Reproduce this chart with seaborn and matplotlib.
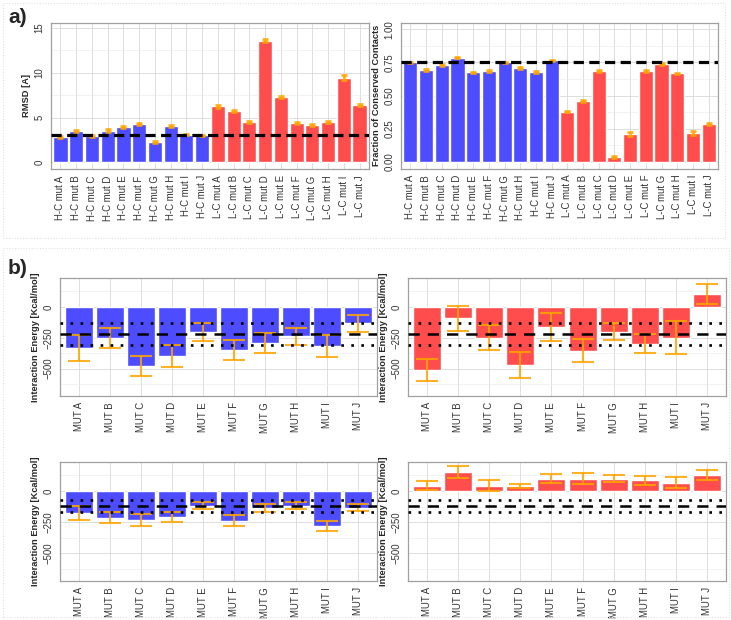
import numpy as np
import pandas as pd
import matplotlib
matplotlib.use("Agg")
import matplotlib.pyplot as plt
from matplotlib.patches import Rectangle
import seaborn as sns

# ---- data ----
mutants = ["A", "B", "C", "D", "E", "F", "G", "H", "I", "J"]
hc_labels = ["H-C mut " + m for m in mutants]
lc_labels = ["L-C mut " + m for m in mutants]
mut_labels = ["MUT " + m for m in mutants]

rmsd_hc = [2.8, 3.45, 2.95, 3.55, 3.95, 4.3, 2.3, 4.1, 3.1, 3.0]
rmsd_lc = [6.25, 5.75, 4.55, 13.6, 7.3, 4.4, 4.15, 4.55, 9.45, 6.4]
rmsd_hc_err = [0.12, 0.12, 0.1, 0.12, 0.12, 0.1, 0.1, 0.12, 0.08, 0.08]
rmsd_lc_err = [0.15, 0.12, 0.12, 0.15, 0.15, 0.12, 0.12, 0.12, 0.3, 0.15]
rmsd_ref = 3.1

frac_hc = [0.75, 0.695, 0.733, 0.787, 0.675, 0.685, 0.75, 0.71, 0.678, 0.765]
frac_lc = [0.38, 0.458, 0.685, 0.037, 0.207, 0.685, 0.738, 0.668, 0.218, 0.287]
frac_hc_err = [0.006, 0.006, 0.006, 0.007, 0.006, 0.007, 0.006, 0.007, 0.006, 0.007]
frac_lc_err = [0.007, 0.007, 0.007, 0.008, 0.015, 0.007, 0.007, 0.006, 0.015, 0.01]
frac_ref = 0.752

# interaction energies, four panels
e_tl = [-331, -252, -478, -398, -204, -349, -293, -239, -317, -134]
e_tl_err = [105, 79, 82, 91, 71, 82, 78, 69, 92, 69]
e_tr = [-511, -94, -250, -470, -164, -355, -202, -298, -250, 105]
e_tr_err = [90, 102, 101, 105, 115, 95, 69, 77, 134, 84]
e_bl = [-175, -215, -234, -207, -118, -239, -137, -118, -282, -134]
e_bl_err = [57, 45, 47, 42, 26, 44, 35, 26, 39, 30]
e_br = [43, 153, 43, 43, 99, 99, 99, 86, 67, 129]
e_br_err = [37, 47, 43, 16, 35, 45, 30, 37, 45, 39]

top_ref = [-220, -129, -309]     # mean, lower/upper dotted
bottom_ref = [-124, -73, -172]

BLUE = "#4D4DFF"
RED = "#FF4D4D"
ORANGE = "#FFA500"

sns.set_theme(style="whitegrid")
plt.rcParams["font.family"] = ["Liberation Sans", "DejaVu Sans"]

W, H = 731, 620
fig = plt.figure(figsize=(W / 100, H / 100), dpi=100)
fig.patch.set_facecolor("white")


def add_ax(x0, x1, top, bottom):
    return fig.add_axes([x0 / W, 1 - bottom / H, (x1 - x0) / W, (bottom - top) / H])


def style(ax, ylim, major, minor, ylabel, fmt=None):
    ax.set_xlim(-0.6, len(ax.get_xticks()) - 0.4)
    ax.set_ylim(*ylim)
    ax.set_yticks(major)
    ax.set_yticks(minor, minor=True)
    if fmt:
        ax.set_yticklabels([fmt.format(v) for v in major])
    ax.set_axisbelow(True)
    ax.grid(which="major", color="#D9D9D9", lw=0.6)
    ax.grid(which="minor", axis="y", color="#EAEAEA", lw=0.4)
    for s in ax.spines.values():
        s.set_color("#A0A0A0")
        s.set_linewidth(0.9)
    ax.tick_params(axis="both", which="major", length=2.5, width=0.6, color="#A0A0A0",
                   labelsize=6.9, labelcolor="#333333", pad=2)
    ax.tick_params(axis="y", which="minor", length=0)
    ax.tick_params(axis="x", labelrotation=90)
    for t in ax.get_yticklabels():
        t.set_rotation(90)
        t.set_va("center")
    ax.set_xlabel("")
    ax.set_ylabel(ylabel, fontsize=6.7, fontweight="bold", labelpad=3)


def group_bars(ax, labels, values, errs, colors, capsize, elw):
    df = pd.DataFrame({"label": labels, "value": values, "color": colors})
    sns.barplot(data=df, x="label", y="value", hue="color", palette={c: c for c in set(colors)},
                dodge=False, width=0.9, saturation=1, errorbar=None, legend=False, ax=ax)
    ax.errorbar(np.arange(len(values)), values, yerr=errs, fmt="none", ecolor=ORANGE,
                elinewidth=elw, capsize=capsize, capthick=elw, alpha=0.85, zorder=3)


# ---------------- panel a ----------------
ax1 = add_ax(51, 369, 22.7, 169)
group_bars(ax1, hc_labels + lc_labels, rmsd_hc + rmsd_lc, rmsd_hc_err + rmsd_lc_err,
           [BLUE] * 10 + [RED] * 10, 2.5, 2.0)
ax1.axhline(rmsd_ref, color="black", lw=2.3, dashes=(3.2, 1.7), zorder=4)
style(ax1, (-0.75, 15.6), [0, 5, 10, 15], [2.5, 7.5, 12.5], "RMSD [A]")

ax2 = add_ax(401, 718, 22.7, 168.5)
group_bars(ax2, hc_labels + lc_labels, frac_hc + frac_lc, frac_hc_err + frac_lc_err,
           [BLUE] * 10 + [RED] * 10, 2.5, 2.0)
ax2.axhline(frac_ref, color="black", lw=2.3, dashes=(3.2, 1.7), zorder=4)
style(ax2, (-0.05, 1.05), [0, 0.25, 0.5, 0.75, 1.0], [0.125, 0.375, 0.625, 0.875],
      "Fraction of Conserved Contacts", fmt="{:.2f}")

# ---------------- panel b ----------------
panels = [
    (60, 377, 277.7, 396, e_tl, e_tl_err, BLUE, top_ref),
    (408, 726, 277.7, 396, e_tr, e_tr_err, RED, top_ref),
    (60, 377, 461.7, 580.7, e_bl, e_bl_err, BLUE, bottom_ref),
    (408, 726, 461.7, 580.7, e_br, e_br_err, RED, bottom_ref),
]
for x0, x1, top, bottom, vals, errs, col, ref in panels:
    ax = add_ax(x0, x1, top, bottom)
    group_bars(ax, mut_labels, vals, errs, [col] * 10, 8, 1.5)
    ax.axhline(ref[0], color="black", lw=1.8, dashes=(4.5, 3.2), zorder=4)
    for r in ref[1:]:
        ax.axhline(r, color="black", lw=1.9, dashes=(1, 2.8), zorder=4)
    style(ax, (-722, 236), [0, -250, -500], [125, -125, -375, -625],
          "Interaction Energy [Kcal/mol]")

# section letters and light frames
fig.text(8 / W, 1 - 17.5 / H, "a)", fontsize=15, fontweight="bold", va="center", ha="left")
fig.text(8 / W, 1 - 269 / H, "b)", fontsize=15, fontweight="bold", va="center", ha="left")
for (x, y, w, h) in [(3, 3, 722, 235), (3, 248, 726, 369)]:
    fig.patches.append(Rectangle((x / W, 1 - (y + h) / H), w / W, h / H, transform=fig.transFigure,
                                 fill=False, ec="#E3E3E3", lw=0.8, ls=(0, (1, 1.5))))

fig.savefig("out.png", dpi=100)
